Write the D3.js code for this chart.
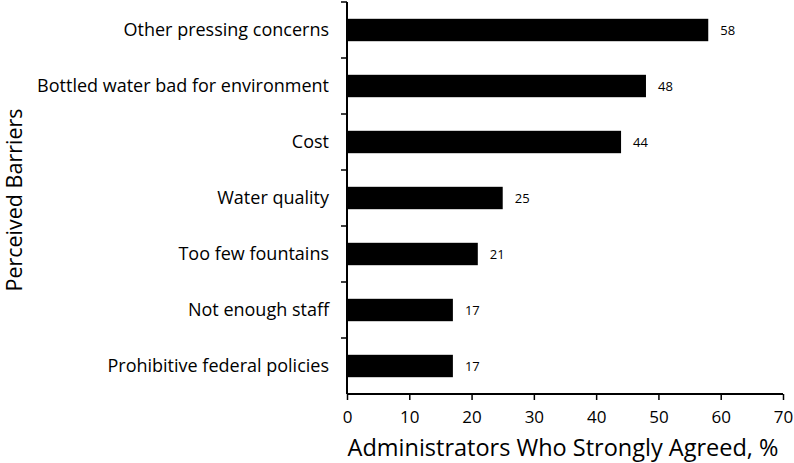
<!DOCTYPE html>
<html><head><meta charset="utf-8">
<script src="https://cdn.jsdelivr.net/npm/d3@7"></script>
<style>body{margin:0;background:#fff}svg{display:block}text{font-family:"Open Sans",sans-serif;fill:#000}</style>
</head><body><svg id="c" width="794" height="463"></svg>
<script>
const categories = ["Other pressing concerns","Bottled water bad for environment","Cost","Water quality","Too few fountains","Not enough staff","Prohibitive federal policies"];
const values = [58,48,44,25,21,17,17];
const xTicks = [0,10,20,30,40,50,60,70];

(function(){
const svg = d3.select("#c");
const L = 347, R = 783, T = 2, B = 394;
const x = d3.scaleLinear().domain([0,70]).range([L,R]);
const y = d3.scaleBand().domain(categories).range([T,B]).paddingInner(0.6).paddingOuter(0.3);
const yb = d3.scaleBand().domain(categories).range([T,B]);

svg.selectAll("rect.bar").data(values).join("rect")
  .attr("x", x(0)).attr("y",(d,i)=>y(categories[i]))
  .attr("width", d=>x(d)-x(0)).attr("height", y.bandwidth()).attr("fill","#000");

svg.selectAll("text.val").data(values).join("text")
  .attr("x", d=>x(d)+12).attr("y",(d,i)=>y(categories[i])+y.bandwidth()/2)
  .attr("dy","0.35em").attr("font-size",13).text(d=>d);

svg.selectAll("text.cat").data(categories).join("text")
  .attr("x", 329).attr("y", d=>yb(d)+yb.bandwidth()/2).attr("dy","0.35em")
  .attr("text-anchor","end").attr("font-size",18).text(d=>d);

svg.append("line").attr("x1",L).attr("x2",L).attr("y1",T).attr("y2",B).attr("stroke","#000").attr("stroke-width",2);
const bounds = categories.map(c=>yb(c));
svg.selectAll("line.yt").data(bounds).join("line")
  .attr("x1",L-6).attr("x2",L).attr("y1",d=>d).attr("y2",d=>d).attr("stroke","#000").attr("stroke-width",1.5);

const xa = svg.append("g").attr("transform",`translate(0,${B})`)
  .call(d3.axisBottom(x).tickValues(xTicks).tickSize(6).tickPadding(11).tickFormat(d3.format("d")));
xa.select(".domain").attr("stroke-width",2).attr("d",`M${L},0H${R}`);
xa.selectAll(".tick line").attr("stroke-width",1.5);
xa.selectAll(".tick text").attr("font-size",17).attr("font-family",'"Open Sans",sans-serif');

svg.append("text").attr("x",(L+R)/2-2).attr("y",456).attr("text-anchor","middle").attr("font-size",23.5).text("Administrators Who Strongly Agreed, %");
svg.append("text").attr("transform","translate(22,200) rotate(-90)").attr("text-anchor","middle").attr("font-size",21.5).text("Perceived Barriers");
})();
</script></body></html>
